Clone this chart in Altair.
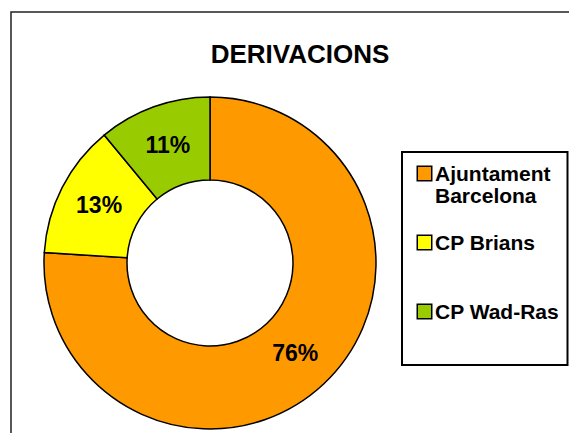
import altair as alt
import pandas as pd

# ---- data ----
categories = ["Ajuntament Barcelona", "CP Brians", "CP Wad-Ras"]
percentages = [76, 13, 11]
legend_labels = ["Ajuntament\nBarcelona", "CP Brians", "CP Wad-Ras"]
colors = ["#FF9900", "#FFFF00", "#99CC00"]
title_text = "DERIVACIONS"

FONT = "Liberation Sans"

df = pd.DataFrame({
    "category": categories,
    "value": percentages,
    "legend_label": legend_labels,
    "rank": list(range(len(categories))),
})

color = alt.Color("category:N", scale=alt.Scale(domain=categories, range=colors), legend=None)
base = alt.Chart(df)

arcs = base.mark_arc(outerRadius=166, innerRadius=83, stroke="black", strokeWidth=1.5).encode(
    theta=alt.Theta("value:Q", stack=True),
    color=color,
    order=alt.Order("rank:Q"),
)

labels = base.transform_calculate(pct="datum.value + '%'").mark_text(
    radius=124.5, font=FONT, fontWeight="bold", fontSize=23, color="black"
).encode(
    theta=alt.Theta("value:Q", stack=True),
    order=alt.Order("rank:Q"),
    text="pct:N",
)

leg_y = alt.Y("category:N", scale=alt.Scale(type="point", domain=categories, range=[76.5, 214.5], padding=0), axis=None)

squares = base.mark_square(size=210, stroke="black", strokeWidth=1.5, opacity=1).encode(
    x=alt.value(380.5), y=leg_y, color=color
)
leg_text = base.mark_text(
    align="left", baseline="alphabetic", dy=7.5, lineBreak="\n", lineHeight=22,
    font=FONT, fontSize=21, fontWeight="bold", color="black"
).encode(x=alt.value(391), y=leg_y, text="legend_label:N")

one = pd.DataFrame({"t": [title_text]})
title = alt.Chart(one).mark_text(
    align="center", baseline="alphabetic", font=FONT, fontSize=26, fontWeight="bold", color="black"
).encode(x=alt.value(256), y=alt.value(-34), text="t:N")

frame = alt.Chart(one).mark_rect(fill="transparent", stroke="#222222", strokeWidth=1.5).encode(
    x=alt.value(-33), x2=alt.value(560), y=alt.value(-85), y2=alt.value(380)
)
legend_box = alt.Chart(one).mark_rect(fill="white", stroke="black", strokeWidth=2).encode(
    x=alt.value(358), x2=alt.value(523.5), y=alt.value(55), y2=alt.value(268)
)

chart = alt.layer(frame, legend_box, arcs, labels, squares, leg_text, title).properties(
    width=332, height=332,
    padding={"left": 36, "top": 89, "right": 193, "bottom": 4},
    autosize="none",
    background="white",
).configure_view(stroke=None)

chart.save("out.html", embed_options={"renderer": "svg", "actions": False})
